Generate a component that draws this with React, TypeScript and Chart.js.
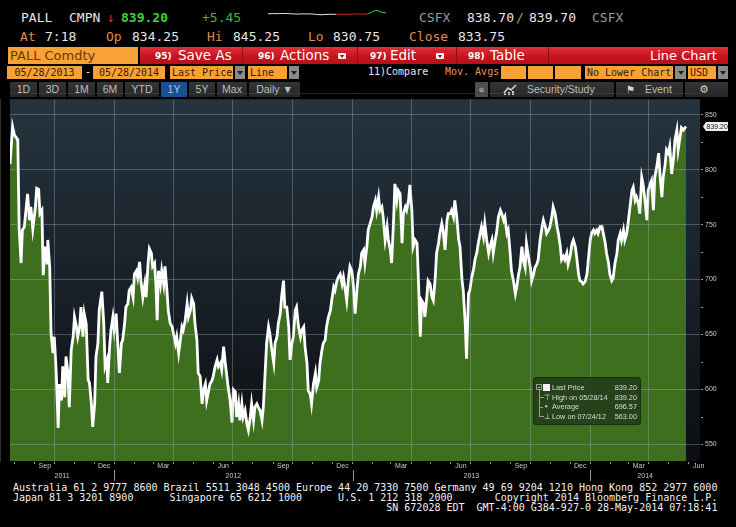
import React, { useEffect, useRef } from 'react';
import { Chart, registerables } from 'chart.js';

Chart.register(...registerables);

// ---------------- data ----------------
const START_DATE = '2011-07-01'; // day 0 of dayOffsets
const DAY_MS = 86400000;

const dayOffsets = [
  24, 28, 31, 35, 36, 38, 41, 43, 46, 51, 54, 56, 59, 63, 65, 68, 70, 73, 75, 78,
  81, 82, 85, 87, 90, 92, 95, 98, 100, 103, 105, 108, 110, 113, 115, 118, 121, 123, 126, 128,
  131, 133, 136, 138, 141, 144, 146, 149, 151, 154, 156, 159, 161, 165, 168, 170, 173, 174, 177, 179,
  182, 184, 187, 190, 192, 195, 197, 200, 202, 205, 207, 210, 213, 215, 218, 220, 223, 225, 228, 231,
  233, 236, 238, 241, 243, 246, 248, 250, 252, 255, 257, 260, 262, 265, 267, 270, 273, 275, 278, 280,
  283, 285, 288, 290, 293, 296, 298, 301, 303, 306, 308, 311, 313, 316, 319, 321, 324, 326, 329, 331,
  334, 336, 339, 342, 344, 347, 349, 352, 354, 357, 359, 362, 365, 367, 370, 372, 375, 377, 380, 382,
  385, 388, 390, 393, 395, 398, 400, 403, 405, 408, 411, 413, 416, 418, 421, 423, 426, 429, 431, 434,
  436, 439, 441, 444, 446, 449, 452, 454, 457, 459, 462, 464, 467, 470, 472, 475, 477, 480, 482, 485,
  487, 490, 493, 495, 498, 500, 503, 505, 508, 510, 513, 516, 518, 521, 523, 526, 528, 531, 534, 536,
  539, 541, 544, 546, 549, 551, 554, 557, 559, 562, 564, 567, 569, 572, 574, 577, 580, 582, 585, 587,
  590, 592, 595, 597, 600, 603, 605, 608, 610, 613, 615, 618, 620, 623, 626, 628, 631, 633, 636, 638,
  641, 643, 646, 649, 651, 654, 656, 659, 661, 664, 666, 669, 672, 674, 677, 679, 682, 684, 687, 689,
  692, 695, 697, 700, 702, 705, 707, 710, 713, 715, 718, 720, 723, 725, 728, 730, 733, 736, 738, 741,
  743, 746, 748, 751, 753, 756, 759, 761, 764, 766, 769, 771, 774, 777, 779, 782, 784, 787, 789, 792,
  794, 797, 800, 802, 805, 807, 810, 812, 815, 817, 820, 823, 825, 828, 830, 833, 835, 838, 841, 843,
  846, 848, 851, 853, 856, 858, 861, 864, 866, 869, 871, 874, 876, 879, 881, 884, 887, 889, 892, 894,
  897, 899, 902, 904, 907, 910, 912, 915, 917, 920, 922, 925, 927, 930, 933, 935, 938, 940, 943, 945,
  948, 950, 953, 956, 958, 961, 963, 966, 968, 971, 973, 976, 979, 981, 984, 986, 989, 991, 994, 996,
  999, 1002, 1004, 1007, 1009, 1012, 1014, 1017, 1020, 1022, 1025, 1027, 1030, 1032, 1035, 1037, 1040, 1043, 1045, 1048,
  1050, 1053, 1055, 1058, 1062,
];

const prices = [
  805, 839, 831, 828, 825, 748, 715, 745, 748, 778, 754, 766, 746, 766, 783, 782, 760, 763, 704, 730,
  715, 736, 711, 651, 633, 648, 615, 565, 605, 590, 621, 593, 630, 615, 584, 636, 648, 666, 657, 648,
  657, 675, 648, 669, 660, 609, 606, 587, 566, 587, 630, 642, 672, 689, 660, 621, 627, 606, 639, 654,
  666, 654, 669, 636, 615, 642, 645, 660, 675, 678, 690, 693, 684, 705, 708, 702, 716, 699, 684, 696,
  684, 715, 728, 724, 712, 715, 696, 663, 708, 696, 708, 696, 712, 690, 672, 660, 657, 651, 642, 648,
  633, 642, 657, 654, 663, 678, 666, 672, 683, 678, 660, 645, 615, 612, 587, 599, 605, 590, 599, 605,
  608, 612, 621, 627, 621, 624, 618, 639, 627, 612, 602, 590, 570, 600, 598, 575, 587, 572, 587, 575,
  581, 568, 563, 575, 587, 572, 584, 587, 584, 581, 572, 584, 618, 642, 657, 651, 636, 624, 642, 648,
  660, 669, 684, 699, 675, 675, 657, 627, 642, 648, 672, 675, 657, 648, 654, 657, 639, 624, 599, 596,
  587, 605, 615, 602, 608, 624, 636, 642, 645, 657, 666, 672, 681, 693, 690, 699, 702, 705, 696, 702,
  690, 681, 702, 712, 708, 696, 669, 693, 705, 712, 724, 727, 715, 730, 745, 751, 757, 766, 772, 763,
  775, 763, 766, 757, 736, 748, 736, 727, 715, 754, 787, 772, 781, 778, 733, 760, 766, 763, 772, 786,
  763, 730, 736, 733, 702, 648, 681, 678, 666, 684, 699, 696, 684, 681, 702, 724, 733, 742, 751, 745,
  727, 754, 760, 760, 763, 757, 772, 757, 736, 730, 700, 690, 660, 628, 687, 690, 702, 710, 718, 725,
  733, 742, 748, 739, 751, 736, 724, 730, 736, 724, 736, 742, 757, 763, 760, 754, 757, 742, 745, 724,
  708, 699, 687, 693, 705, 711, 730, 718, 711, 733, 721, 711, 699, 705, 711, 714, 718, 736, 748, 754,
  748, 742, 745, 748, 757, 766, 760, 748, 742, 730, 718, 721, 718, 724, 714, 721, 733, 736, 730, 721,
  705, 699, 698, 696, 698, 705, 718, 736, 742, 745, 742, 745, 742, 748, 748, 742, 733, 724, 715, 705,
  699, 701, 715, 724, 736, 742, 736, 745, 736, 742, 751, 766, 781, 784, 772, 775, 769, 760, 793, 787,
  772, 754, 781, 787, 790, 763, 793, 802, 815, 796, 775, 793, 805, 818, 815, 821, 796, 811, 827, 836,
  818, 830, 838, 836, 839.2,
];

const X_MIN_DAY = 24;
const X_MAX_DAY = 1083.5;
const Y_MIN = 535;
const Y_MAX = 864;
const yTickValues = [550, 575, 600, 625, 650, 675, 700, 725, 750, 775, 800, 825, 850];
const Y_LABEL_STEP = 50;
const monthNames = ['Jan', 'Feb', 'Mar', 'Apr', 'May', 'Jun', 'Jul', 'Aug', 'Sep', 'Oct', 'Nov', 'Dec'];
const labelledMonths = [2, 5, 8, 11];
const gridMonths = [0, 3, 6, 9];
const yearLabels = [2011, 2012, 2013, 2014];

const lastPrice = 839.2;
const legendRows = [
  { icon: 'box', label: 'Last Price', value: '839.20' },
  { icon: '\u22A4', label: 'High on 05/28/14', value: '839.20' },
  { icon: '\u2022', label: 'Average', value: '696.57' },
  { icon: '\u22A5', label: 'Low on 07/24/12', value: '563.00' },
];

const sparkValues = [
  834.0, 834.4, 834.7, 834.3, 835.0, 834.7, 835.4, 834.7, 834.0, 833.4, 833.0, 833.4, 834.0, 833.4,
  833.9, 833.1, 832.3, 831.4, 830.8, 831.5, 832.1, 832.6, 832.1, 832.7, 833.1, 832.3, 832.8, 832.1,
  832.6, 833.4, 833.9, 833.1, 832.6, 833.1, 834.0, 838.7, 843.9, 845.25, 841.3, 838.0, 837.3,
];
const SPARK_RED_FROM = 23;
const SPARK_GREEN_FROM = 34;

// ---------------- helpers ----------------
const startUTC = Date.parse(START_DATE);
const dayOf = (y: number, m: number, d = 1) => (Date.UTC(y, m, d) - startUTC) / DAY_MS;

function buildXTicks() {
  const out: any[] = [];
  for (let y = 2011; y <= 2014; y++) {
    for (let m = 0; m < 12; m++) {
      const d1 = dayOf(y, m, 1);
      if (d1 >= X_MIN_DAY && d1 <= X_MAX_DAY) out.push({ value: d1, kind: 'month', month: m });
      if (labelledMonths.includes(m)) {
        const dm = dayOf(y, m, 1) + 15.5;
        if (dm >= X_MIN_DAY && dm <= X_MAX_DAY) out.push({ value: dm, kind: 'label', month: m });
      }
    }
  }
  return out.sort((a, b) => a.value - b.value);
}
const X_TICKS = buildXTicks();

const GRID_COLOR = 'rgba(175,190,200,0.33)';
const TICK_FONT = "'Liberation Sans', Arial, sans-serif";
const MONO = "'DejaVu Sans Mono', monospace";
const SANS = "'DejaVu Sans', sans-serif";
const ARIAL = "'Liberation Sans', Arial, sans-serif";

const plotBgPlugin = {
  id: 'plotBg',
  beforeDraw(chart: any) {
    const { ctx, chartArea: ca } = chart;
    if (!ca) return;
    const g = ctx.createLinearGradient(0, ca.top, 0, ca.bottom);
    g.addColorStop(0, '#25343e');
    g.addColorStop(0.45, '#1a232c');
    g.addColorStop(1, '#0c0e11');
    ctx.save();
    ctx.fillStyle = g;
    ctx.fillRect(ca.left, ca.top, ca.width, ca.height);
    ctx.restore();
  },
};

const annotationsPlugin = {
  id: 'bbgAnnotations',
  afterDraw(chart: any) {
    const { ctx, chartArea: ca } = chart;
    const xs = chart.scales.x;
    const ys = chart.scales.y;
    ctx.save();
    ctx.font = `7px ${TICK_FONT}`;
    ctx.fillStyle = '#c8c8c8';
    ctx.textAlign = 'center';
    ctx.textBaseline = 'middle';
    yearLabels.forEach((yr, i) => {
      const a = Math.max(xs.getPixelForValue(dayOf(yr, 0, 1)), ca.left);
      const b = Math.min(xs.getPixelForValue(dayOf(yr + 1, 0, 1)), ca.right);
      if (b > a) ctx.fillText(String(yr), (a + b) / 2, ca.bottom + 15);
      if (i > 0) {
        const p = Math.round(xs.getPixelForValue(dayOf(yr, 0, 1)));
        ctx.fillStyle = '#9a9a9a';
        ctx.fillRect(p, ca.bottom + 9, 1, 11);
        ctx.fillStyle = '#c8c8c8';
      }
    });
    const py = ys.getPixelForValue(lastPrice);
    const x0 = ca.right + 3;
    ctx.fillStyle = '#f0f0f0';
    ctx.beginPath();
    ctx.moveTo(x0, py);
    ctx.lineTo(x0 + 3, py - 4.5);
    ctx.lineTo(x0 + 25, py - 4.5);
    ctx.lineTo(x0 + 25, py + 4.5);
    ctx.lineTo(x0 + 3, py + 4.5);
    ctx.closePath();
    ctx.fill();
    ctx.fillStyle = '#111';
    ctx.textAlign = 'left';
    ctx.fillText(lastPrice.toFixed(2), x0 + 3.5, py + 0.5);
    ctx.restore();
  },
};

// ---------------- small UI pieces ----------------
const T = ({ x, y, c = '#e6e6e6', f = `13px ${MONO}`, lh = 15, children, style = {} }: any) => (
  <span style={{ position: 'absolute', left: x, top: y, color: c, font: f, lineHeight: `${lh}px`, whiteSpace: 'pre', ...style }}>
    {children}
  </span>
);

const OrangeBox = ({ x, w, text, align = 'center' }: any) => (
  <div style={{
    position: 'absolute', left: x, top: 66, width: w, height: 13, background: '#f7a136',
    color: '#3a2000', font: `10px ${MONO}`, lineHeight: '13px', textAlign: align,
    paddingLeft: align === 'left' ? 2 : 0, boxSizing: 'border-box', whiteSpace: 'pre', overflow: 'hidden',
  }}>{text}</div>
);

const ArrowBtn = ({ x, w = 10 }: any) => (
  <div style={{ position: 'absolute', left: x, top: 66, width: w, height: 13, background: '#8a8a8a' }}>
    <div style={{ position: 'absolute', left: w / 2 - 3, top: 5, width: 0, height: 0, borderLeft: '3px solid transparent', borderRight: '3px solid transparent', borderTop: '4px solid #222' }} />
  </div>
);

const Btn = ({ x, w, text, active = false }: any) => (
  <div style={{
    position: 'absolute', left: x, top: 82, width: w, height: 15,
    background: active ? '#1d4f8f' : 'linear-gradient(#343434,#262626)',
    color: active ? '#a8c8f0' : '#bdbdbd', font: `10.5px ${ARIAL}`, lineHeight: '15px', textAlign: 'center', whiteSpace: 'pre',
  }}>{text}</div>
);

const DropIcon = ({ x }: any) => (
  <div style={{ position: 'absolute', left: x, top: 6, width: 8, height: 6, background: '#f2f2f2', borderRadius: 1 }}>
    <div style={{ position: 'absolute', left: 2, top: 2, width: 0, height: 0, borderLeft: '2px solid transparent', borderRight: '2px solid transparent', borderTop: '3px solid #8a0a12' }} />
  </div>
);

const Sep = ({ x }: any) => (
  <div style={{ position: 'absolute', left: x, top: 0, width: 1, height: 17, background: '#8e0d18' }} />
);

export default function App() {
  const chartRef = useRef<HTMLCanvasElement>(null);
  const sparkRef = useRef<HTMLCanvasElement>(null);

  useEffect(() => {
    const points = dayOffsets.map((d, i) => ({ x: d, y: prices[i] }));
    const main = new Chart(chartRef.current as HTMLCanvasElement, {
      type: 'line',
      data: {
        datasets: [
          {
            data: points,
            borderColor: '#ffffff',
            borderWidth: 2.8,
            backgroundColor: '#3d6f1e',
            fill: 'start',
            pointRadius: 0,
            tension: 0,
          },
        ],
      },
      options: {
        animation: false,
        responsive: false,
        events: [],
        layout: { padding: { left: 10, top: 6, right: 0, bottom: 0 } },
        plugins: { legend: { display: false }, tooltip: { enabled: false } },
        scales: {
          x: {
            type: 'linear',
            position: 'bottom',
            min: X_MIN_DAY,
            max: X_MAX_DAY,
            afterBuildTicks: (s: any) => { s.ticks = X_TICKS.map((t) => ({ ...t })); },
            afterFit: (s: any) => { s.height = 21; },
            grid: {
              z: 1,
              drawOnChartArea: true,
              drawTicks: true,
              tickLength: 3,
              lineWidth: 1,
              color: (c: any) => (c.tick && c.tick.kind === 'month' && gridMonths.includes(c.tick.month) ? GRID_COLOR : 'rgba(0,0,0,0)'),
              tickColor: (c: any) => (c.tick && c.tick.kind === 'month' ? '#9a9a9a' : 'rgba(0,0,0,0)'),
            },
            border: { display: true, color: '#4a4a4a' },
            ticks: {
              autoSkip: false,
              maxRotation: 0,
              minRotation: 0,
              padding: -2,
              color: '#c8c8c8',
              font: { family: TICK_FONT, size: 7 },
              callback: (_v: any, i: number, ticks: any[]) => {
                const t = ticks[i];
                return t && t.kind === 'label' ? monthNames[t.month] : '';
              },
            },
          },
          y: {
            type: 'linear',
            position: 'right',
            min: Y_MIN,
            max: Y_MAX,
            afterBuildTicks: (s: any) => { s.ticks = yTickValues.map((v) => ({ value: v })); },
            afterFit: (s: any) => { s.width = 36; },
            grid: {
              z: 1,
              drawOnChartArea: true,
              drawTicks: true,
              tickLength: 3,
              lineWidth: 1,
              color: (c: any) => (c.tick && c.tick.value % Y_LABEL_STEP === 0 ? GRID_COLOR : 'rgba(0,0,0,0)'),
              tickColor: '#a0a0a0',
            },
            border: { display: true, color: '#5a5a5a' },
            ticks: {
              padding: 2,
              color: '#c8c8c8',
              font: { family: TICK_FONT, size: 7 },
              callback: (v: any) => (Number(v) % Y_LABEL_STEP === 0 ? String(v) : ''),
            },
          },
        },
      },
      plugins: [plotBgPlugin, annotationsPlugin],
    } as any);

    const spark = new Chart(sparkRef.current as HTMLCanvasElement, {
      type: 'line',
      data: {
        labels: sparkValues.map((_, i) => i),
        datasets: [{
          data: sparkValues,
          borderWidth: 1,
          pointRadius: 0,
          tension: 0,
          borderColor: '#e6e6e6',
          segment: {
            borderColor: (c: any) => (c.p0DataIndex >= SPARK_GREEN_FROM ? '#3fd13f' : c.p0DataIndex >= SPARK_RED_FROM ? '#e0262b' : '#e6e6e6'),
          },
        }],
      },
      options: {
        animation: false,
        responsive: false,
        events: [],
        layout: { padding: 1 },
        plugins: { legend: { display: false }, tooltip: { enabled: false } },
        scales: { x: { display: false }, y: { display: false } },
      },
    } as any);

    return () => { main.destroy(); spark.destroy(); };
  }, []);

  const orange = '#e38b4c';

  return (
    <div style={{ position: 'fixed', left: 0, top: 0, width: 736, height: 527, background: '#000', overflow: 'hidden' }}>
      {/* Row 1 */}
      <T x={21} y={10}>PALL</T>
      <T x={69} y={10}>CMPN</T>
      <T x={107} y={10} c="#e0262b">{'\u2193'}</T>
      <T x={121} y={10} c="#3fd13f" style={{ fontWeight: 'bold' }}>839.20</T>
      <T x={202} y={10} c="#3cb83c">+5.45</T>
      <canvas ref={sparkRef} width={120} height={17} style={{ position: 'absolute', left: 267, top: 8 }} />
      <T x={419} y={10} c="#9a9a9a">CSFX</T>
      <T x={467} y={10}>838.70</T>
      <T x={516} y={10} c="#9a9a9a">/</T>
      <T x={529} y={10}>839.70</T>
      <T x={592} y={10} c="#9a9a9a">CSFX</T>

      {/* Row 2 */}
      <T x={20} y={29} c={orange}>At</T>
      <T x={45} y={29}>7:18</T>
      <T x={106} y={29} c={orange}>Op</T>
      <T x={132} y={29}>834.25</T>
      <T x={207} y={29} c={orange}>Hi</T>
      <T x={233} y={29}>845.25</T>
      <T x={308} y={29} c={orange}>Lo</T>
      <T x={333} y={29}>830.75</T>
      <T x={409} y={29} c={orange}>Close</T>
      <T x={458} y={29}>833.75</T>

      {/* Row 3 */}
      <div style={{ position: 'absolute', left: 8, top: 47, width: 130, height: 17, background: '#f7a136', color: '#6b3a06', font: `13px ${SANS}`, lineHeight: '17px', paddingLeft: 2, boxSizing: 'border-box' }}>PALL Comdty</div>
      <div style={{ position: 'absolute', left: 140, top: 47, width: 588, height: 17, background: 'linear-gradient(#e0303a,#c8141f 55%,#b5101a)' }}>
        <T x={15} y={1} c="#fff" f={`bold 9px ${SANS}`} lh={16}>95)</T>
        <T x={38} y={0} c="#fff" f={`13.5px ${SANS}`} lh={17}>Save As</T>
        <Sep x={102} />
        <T x={118} y={1} c="#fff" f={`bold 9px ${SANS}`} lh={16}>96)</T>
        <T x={140} y={0} c="#fff" f={`13.5px ${SANS}`} lh={17}>Actions</T>
        <DropIcon x={198} />
        <Sep x={217} />
        <T x={230} y={1} c="#fff" f={`bold 9px ${SANS}`} lh={16}>97)</T>
        <T x={250} y={0} c="#fff" f={`13.5px ${SANS}`} lh={17}>Edit</T>
        <DropIcon x={296} />
        <Sep x={316} />
        <T x={328} y={1} c="#fff" f={`bold 9px ${SANS}`} lh={16}>98)</T>
        <T x={350} y={0} c="#fff" f={`13.5px ${SANS}`} lh={17}>Table</T>
        <Sep x={408} />
        <T x={510} y={0} c="#fff" f={`13px ${SANS}`} lh={17}>Line Chart</T>
      </div>

      {/* Row 4 */}
      <OrangeBox x={7} w={75} text="05/28/2013" />
      <T x={85} y={65} c="#fff" f={`10px ${MONO}`} lh={14}>-</T>
      <OrangeBox x={93} w={72} text="05/28/2014" />
      <OrangeBox x={170} w={63} text="Last Price" align="left" />
      <ArrowBtn x={235} />
      <OrangeBox x={248} w={39} text="Line" align="left" />
      <ArrowBtn x={289} />
      <T x={368} y={65} c="#e8e8e8" f={`10px ${MONO}`} lh={14}>11)Compare</T>
      <T x={445} y={65} c="#e8945a" f={`10px ${MONO}`} lh={14}>Mov. Avgs</T>
      <OrangeBox x={501} w={25} text="" />
      <OrangeBox x={528} w={25} text="" />
      <OrangeBox x={555} w={26} text="" />
      <OrangeBox x={585} w={88} text="No Lower Chart" align="left" />
      <ArrowBtn x={675} w={11} />
      <OrangeBox x={688} w={28} text="USD" align="left" />
      <ArrowBtn x={718} />

      {/* Row 5 */}
      <Btn x={10} w={27} text="1D" />
      <Btn x={39} w={27} text="3D" />
      <Btn x={68} w={27} text="1M" />
      <Btn x={97} w={26} text="6M" />
      <Btn x={125} w={34} text="YTD" />
      <Btn x={161} w={26} text="1Y" active />
      <Btn x={189} w={26} text="5Y" />
      <Btn x={217} w={30} text="Max" />
      <Btn x={249} w={51} text={'Daily \u25BC'} />
      <div style={{ position: 'absolute', left: 475, top: 82, width: 13, height: 15, background: '#4d4d4d', color: '#d0d0d0', font: `10px ${ARIAL}`, lineHeight: '15px', textAlign: 'center' }}>{'\u00AB'}</div>
      <Btn x={490} w={124} text="" />
      <svg style={{ position: 'absolute', left: 503, top: 84 }} width="14" height="11" viewBox="0 0 14 11">
        <polyline points="1,9 5,4 8,6 13,1" fill="none" stroke="#cfcfcf" strokeWidth="1.6" />
        <rect x="1" y="9" width="2" height="2" fill="#cfcfcf" />
        <rect x="5" y="8" width="2" height="3" fill="#cfcfcf" />
        <rect x="9" y="7" width="2" height="4" fill="#cfcfcf" />
      </svg>
      <T x={527} y={82} c="#bdbdbd" f={`10.5px ${ARIAL}`} lh={15}>Security/Study</T>
      <Btn x={616} w={67} text="" />
      <T x={626} y={82} c="#d8d8d8" f={`10px ${SANS}`} lh={15}>{'\u2691'}</T>
      <T x={645} y={82} c="#bdbdbd" f={`10.5px ${ARIAL}`} lh={15}>Event</T>
      <Btn x={685} w={43} text="" />
      <T x={699} y={82} c="#d0d0d0" f={`11px ${SANS}`} lh={15}>{'\u2699'}</T>

      {/* Chart */}
      <canvas ref={chartRef} width={736} height={389} style={{ position: 'absolute', left: 0, top: 93 }} />

      {/* Legend box */}
      <div style={{ position: 'absolute', left: 533, top: 377, width: 108, height: 48, background: 'rgba(36,62,26,0.93)', border: '1px solid #1b2f12', borderRadius: 3, boxSizing: 'border-box' }} />
      <div style={{ position: 'absolute', left: 536, top: 384, width: 6, height: 6, border: '1px solid #9a9a9a', boxSizing: 'border-box' }} />
      <div style={{ position: 'absolute', left: 538, top: 386.5, width: 2, height: 1, background: '#bbb' }} />
      <div style={{ position: 'absolute', left: 539, top: 390, width: 1, height: 26, background: '#9a9a9a' }} />
      <div style={{ position: 'absolute', left: 539, top: 397, width: 5, height: 1, background: '#9a9a9a' }} />
      <div style={{ position: 'absolute', left: 539, top: 406.5, width: 4, height: 1, background: '#9a9a9a' }} />
      <div style={{ position: 'absolute', left: 539, top: 416, width: 5, height: 1, background: '#9a9a9a' }} />
      {legendRows.map((r, i) => (
        <React.Fragment key={r.label}>
          {r.icon === 'box'
            ? <div style={{ position: 'absolute', left: 543, top: 384 + i * 9.5, width: 7, height: 7, background: '#f4f4f4' }} />
            : <T x={544} y={383 + i * 9.5} c="#e0e0e0" f={`7.5px ${SANS}`} lh={9}>{r.icon}</T>}
          <T x={552} y={383 + i * 9.5} c="#dcdcdc" f={`7.3px ${ARIAL}`} lh={9}>{r.label}</T>
          <span style={{ position: 'absolute', right: 736 - 637, top: 383 + i * 9.5, color: '#dcdcdc', font: `7.3px ${ARIAL}`, lineHeight: '9px' }}>{r.value}</span>
        </React.Fragment>
      ))}

      {/* Footer */}
      <pre style={{ position: 'absolute', left: 13, top: 483, margin: 0, color: '#f2f2f2', font: `10px ${MONO}`, lineHeight: '10px' }}>
{`Australia 61 2 9777 8600 Brazil 5511 3048 4500 Europe 44 20 7330 7500 Germany 49 69 9204 1210 Hong Kong 852 2977 6000
Japan 81 3 3201 8900      Singapore 65 6212 1000      U.S. 1 212 318 2000       Copyright 2014 Bloomberg Finance L.P.
                                                              SN 672028 EDT  GMT-4:00 G384-927-0 28-May-2014 07:18:41`}
      </pre>
    </div>
  );
}
